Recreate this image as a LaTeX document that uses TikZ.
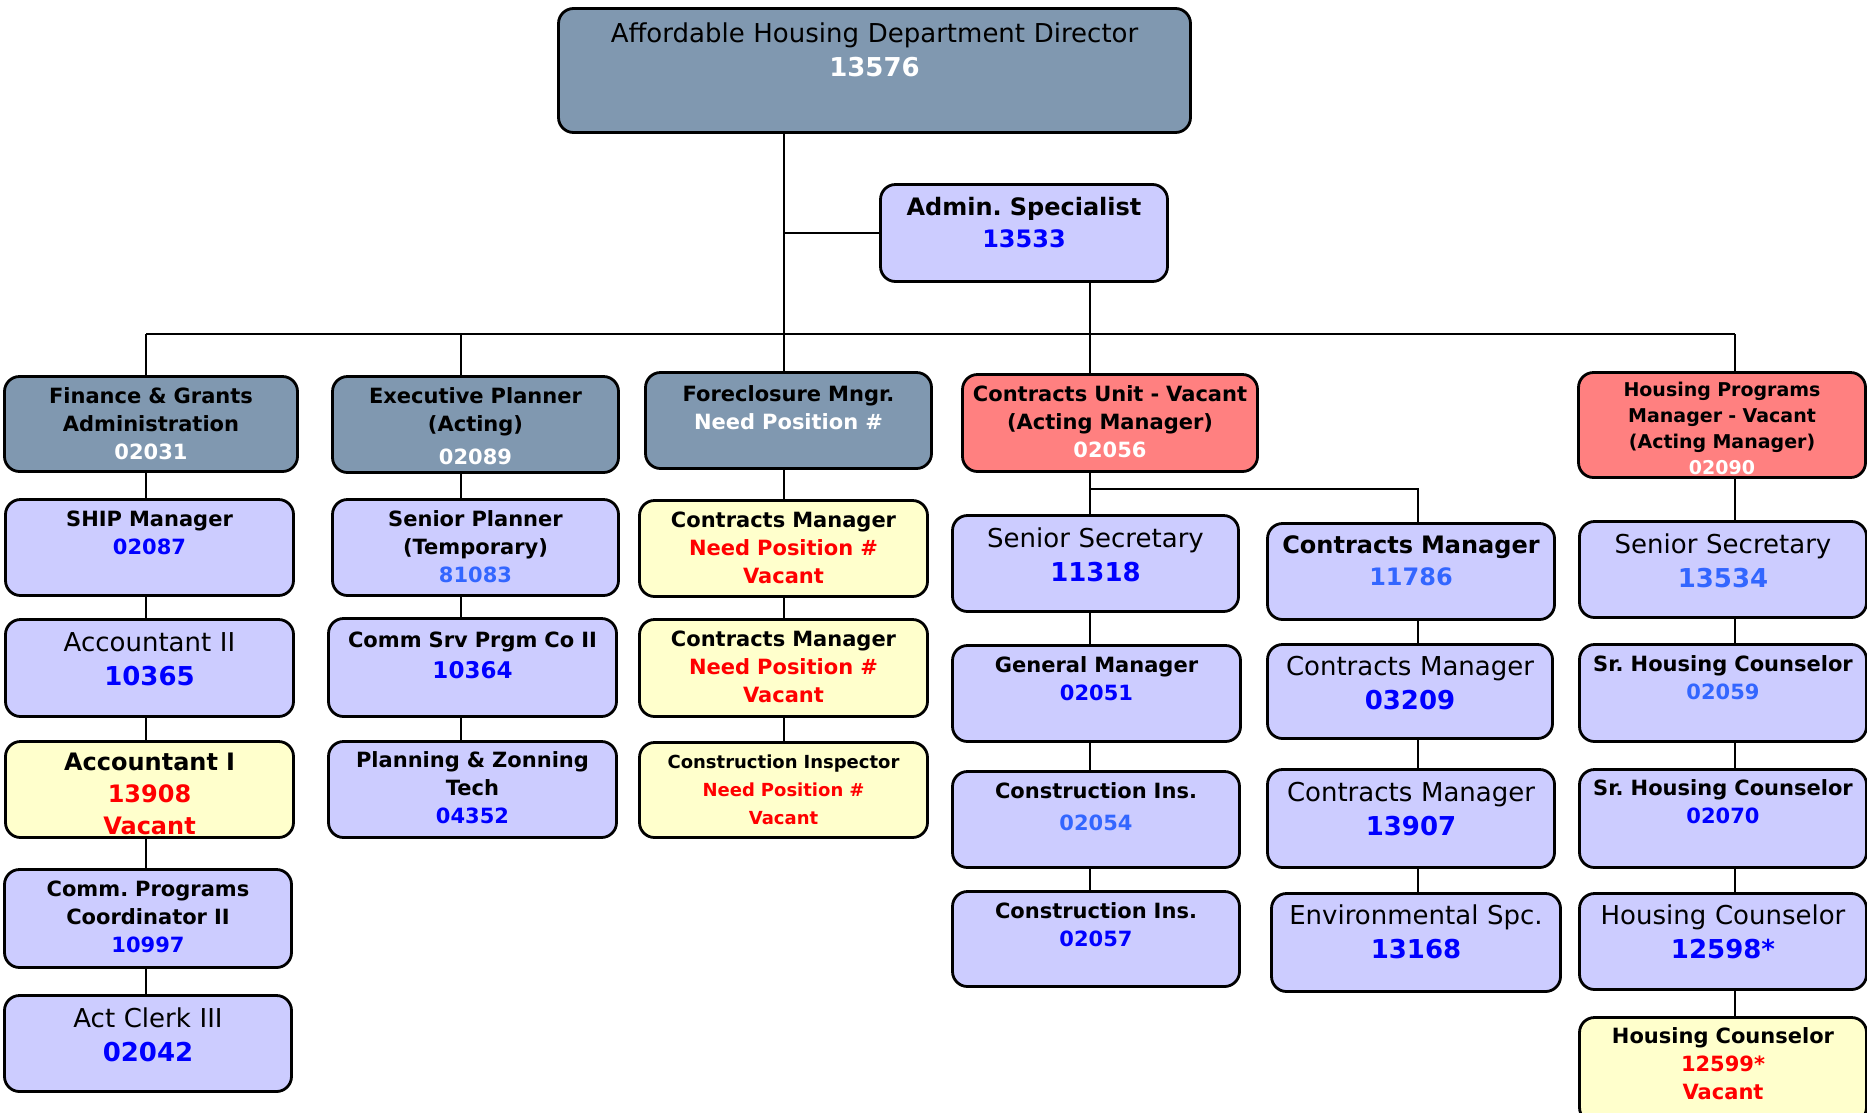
\documentclass[tikz,border=0pt]{standalone}
\usepackage{fontspec}
\setmainfont{DejaVu Sans}
\usepackage{xcolor}
\usepackage{tikz}
\definecolor{slate}{RGB}{128,152,176}
\definecolor{lavender}{RGB}{204,204,255}
\definecolor{rose}{RGB}{255,128,128}
\definecolor{cream}{RGB}{255,255,204}
\definecolor{numblue}{RGB}{0,0,255}
\definecolor{lightblue}{RGB}{51,102,255}
\tikzset{>=latex}
\frenchspacing

\begin{document}
\begin{tikzpicture}[x=1pt, y=-1pt,
        box/.style={draw=black, line width=2.8pt, rounded corners=15pt, inner sep=0pt},
        slatebox/.style={box, fill=slate},
        lavbox/.style={box, fill=lavender},
        rosebox/.style={box, fill=rose},
        creambox/.style={box, fill=cream},
        link/.style={line width=2pt},
        big/.style={font=\fontsize{26}{34}\selectfont, text width=300pt, align=center, anchor=base, inner sep=0pt, yshift=-33pt},
        mid/.style={font=\fontsize{24}{32}\selectfont\bfseries, text width=300pt, align=center, anchor=base, inner sep=0pt, yshift=-31pt},
        small/.style={font=\fontsize{21}{28}\selectfont\bfseries, text width=300pt, align=center, anchor=base, inner sep=0pt, yshift=-28.5pt},
        tiny/.style={font=\fontsize{19}{26}\selectfont\bfseries, text width=300pt, align=center, anchor=base, inner sep=0pt, yshift=-25pt}]
        \useasboundingbox (0,0) rectangle (1867,1112);
        \clip (0,0) rectangle (1867,1112);

        % top
        \node[slatebox, minimum width=632pt, minimum height=124pt, label={[big, text width=620pt, yshift=-2pt]north:{Affordable Housing Department Director\\\bfseries\color{white}13576}}] (dir) at (874.5,70.5) {};
        \node[lavbox, minimum width=287pt, minimum height=97pt, label={[mid, yshift=-1pt]north:{Admin. Specialist\\\color{numblue}13533}}] (adm) at (1024,233) {};

        % unit heads
        \node[slatebox, minimum width=293pt, minimum height=95pt, label={[small]north:{Finance \& Grants\\Administration\\\color{white}02031}}] (fin) at (151,424) {};
        \node[slatebox, minimum width=286pt, minimum height=96pt, label={[small]north:{Executive Planner\\(Acting)\\[5pt]\color{white}02089}}] (exe) at (475.5,424.5) {};
        \node[slatebox, minimum width=286pt, minimum height=96pt, label={[small, yshift=-1.5pt]north:{Foreclosure Mngr.\\\color{white}Need Position \#}}] (frc) at (788.5,420.5) {};
        \node[rosebox, minimum width=295pt, minimum height=97pt, label={[small]north:{Contracts Unit - Vacant\\(Acting Manager)\\\color{white}02056}}] (cun) at (1110,423) {};
        \node[rosebox, minimum width=287pt, minimum height=105pt, label={[tiny]north:{Housing Programs\\Manager - Vacant\\(Acting Manager)\\\color{white}02090}}] (hpm) at (1722,425) {};

        % finance
        \node[lavbox, minimum width=288pt, minimum height=96pt, label={[small]north:{SHIP Manager\\\color{numblue}02087}}] (ship) at (149.5,547.5) {};
        \node[lavbox, minimum width=288pt, minimum height=97pt, label={[big]north:{Accountant II\\\bfseries\color{numblue}10365}}] (ac2) at (149.5,668) {};
        \node[creambox, minimum width=288pt, minimum height=96pt, label={[mid, yshift=1pt]north:{Accountant I\\\color{red}13908\\Vacant}}] (ac1) at (149.5,789.5) {};
        \node[lavbox, minimum width=287pt, minimum height=98pt, label={[small]north:{Comm. Programs\\Coordinator II\\\color{numblue}10997}}] (cpc) at (148,918.5) {};
        \node[lavbox, minimum width=287pt, minimum height=96pt, label={[big]north:{Act Clerk III\\\bfseries\color{numblue}02042}}] (acl) at (148,1043.5) {};

        % planning
        \node[lavbox, minimum width=286pt, minimum height=96pt, label={[small]north:{Senior Planner\\(Temporary)\\\color{lightblue}81083}}] (spl) at (475.5,547.5) {};
        \node[lavbox, minimum width=288pt, minimum height=98pt, label={[small, yshift=-1.5pt]north:{Comm Srv Prgm Co II\\[3pt]{\fontsize{23}{28}\selectfont\color{numblue}10364}}}] (csp) at (472.5,667.5) {};
        \node[lavbox, minimum width=288pt, minimum height=96pt, label={[small, yshift=1.5pt]north:{Planning \& Zonning\\Tech\\\color{numblue}04352}}] (pzt) at (472.5,789.5) {};

        % foreclosure
        \node[creambox, minimum width=288pt, minimum height=96pt, label={[small]north:{Contracts Manager\\\color{red}Need Position \#\\Vacant}}] (cm1) at (783.5,548.5) {};
        \node[creambox, minimum width=288pt, minimum height=97pt, label={[small]north:{Contracts Manager\\\color{red}Need Position \#\\Vacant}}] (cm2) at (783.5,668) {};
        \node[creambox, minimum width=288pt, minimum height=95pt, label={[small, font=\fontsize{18}{28}\selectfont\bfseries, yshift=1.5pt]north:{Construction Inspector\\\color{red}Need Position \#\\Vacant}}] (cin) at (783.5,790) {};

        % contracts
        \node[lavbox, minimum width=286pt, minimum height=96pt, label={[big]north:{Senior Secretary\\\bfseries\color{numblue}11318}}] (ss1) at (1095.5,563.5) {};
        \node[lavbox, minimum width=288pt, minimum height=96pt, label={[small]north:{General Manager\\\color{numblue}02051}}] (gm) at (1096.5,693.5) {};
        \node[lavbox, minimum width=287pt, minimum height=96pt, label={[small]north:{Construction Ins.\\[4pt]\color{lightblue}02054}}] (ci1) at (1096,819.5) {};
        \node[lavbox, minimum width=287pt, minimum height=95pt, label={[small]north:{Construction Ins.\\\color{numblue}02057}}] (ci2) at (1096,939) {};
        \node[lavbox, minimum width=287pt, minimum height=96pt, label={[mid]north:{Contracts Manager\\\color{lightblue}11786}}] (cm3) at (1411,571.5) {};
        \node[lavbox, minimum width=285pt, minimum height=94pt, label={[big, yshift=1pt]north:{Contracts Manager\\\bfseries\color{numblue}03209}}] (cm4) at (1410,691.5) {};
        \node[lavbox, minimum width=287pt, minimum height=98pt, label={[big]north:{Contracts Manager\\\bfseries\color{numblue}13907}}] (cm5) at (1411,818.5) {};
        \node[lavbox, minimum width=289pt, minimum height=98pt, label={[big, yshift=1pt]north:{Environmental Spc.\\\bfseries\color{numblue}13168}}] (env) at (1416,942.5) {};

        % housing programs
        \node[lavbox, minimum width=287pt, minimum height=96pt, label={[big]north:{Senior Secretary\\\bfseries\color{lightblue}13534}}] (ss2) at (1723,569.5) {};
        \node[lavbox, minimum width=287pt, minimum height=97pt, label={[small]north:{Sr. Housing Counselor\\\color{lightblue}02059}}] (shc1) at (1723,693) {};
        \node[lavbox, minimum width=287pt, minimum height=98pt, label={[small, yshift=1.5pt]north:{Sr. Housing Counselor\\\color{numblue}02070}}] (shc2) at (1723,818.5) {};
        \node[lavbox, minimum width=287pt, minimum height=96pt, label={[big, yshift=1pt]north:{Housing Counselor\\\bfseries\color{numblue}12598*}}] (hc1) at (1723,941.5) {};
        \node[creambox, minimum width=287pt, minimum height=105pt, label={[small, yshift=1.5pt]north:{Housing Counselor\\\color{red}12599*\\Vacant}}] (hc2) at (1723,1070) {};

        % connectors
        \coordinate (colA) at (146,334);
        \coordinate (colB) at (461,334);
        \coordinate (colC) at (784,334);
        \coordinate (colD) at (1090,334);
        \coordinate (colE) at (1418,334);
        \coordinate (colF) at (1735,334);
        \coordinate (fork) at (1090,489);
        \draw[link] (colA) -- (colF);
        \draw[link] (colC |- dir.south) -- (colC |- frc.north);
        \draw[link] (colC |- adm.west) -- (adm.west);
        \draw[link] (colD |- adm.south) -- (colD |- cun.north);
        \foreach \c/\n in {colA/fin, colB/exe, colF/hpm} {
          \draw[link] (\c) -- (\c |- \n.north);
        }
        \foreach \a/\b in {fin/ship, ship/ac2, ac2/ac1, ac1/cpc, cpc/acl} {
          \draw[link] (colA |- \a.south) -- (colA |- \b.north);
        }
        \foreach \a/\b in {exe/spl, spl/csp, csp/pzt} {
          \draw[link] (colB |- \a.south) -- (colB |- \b.north);
        }
        \foreach \a/\b in {frc/cm1, cm1/cm2, cm2/cin} {
          \draw[link] (colC |- \a.south) -- (colC |- \b.north);
        }
        \foreach \a/\b in {cun/ss1, ss1/gm, gm/ci1, ci1/ci2} {
          \draw[link] (colD |- \a.south) -- (colD |- \b.north);
        }
        \draw[link] (fork) -| (colE |- cm3.north);
        \foreach \a/\b in {cm3/cm4, cm4/cm5, cm5/env} {
          \draw[link] (colE |- \a.south) -- (colE |- \b.north);
        }
        \foreach \a/\b in {hpm/ss2, ss2/shc1, shc1/shc2, shc2/hc1, hc1/hc2} {
          \draw[link] (colF |- \a.south) -- (colF |- \b.north);
        }
      \end{tikzpicture}
\end{document}
